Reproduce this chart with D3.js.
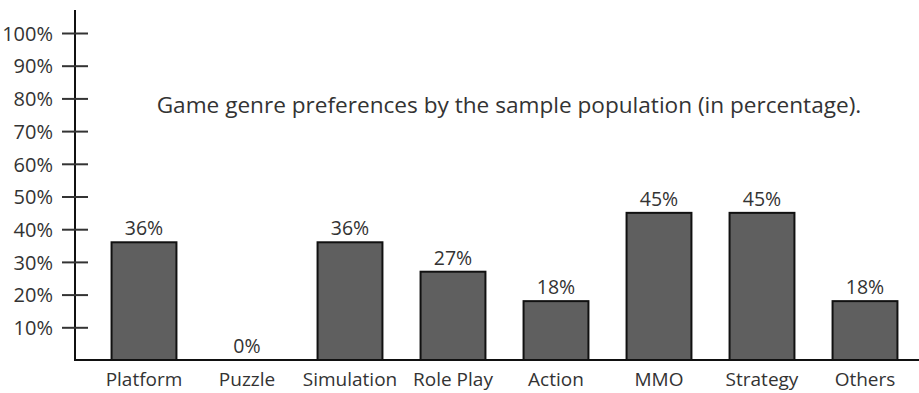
<!DOCTYPE html>
<html>
<head>
<meta charset="utf-8">
<script src="https://cdn.jsdelivr.net/npm/d3@7"></script>
<style>
  html, body { margin: 0; padding: 0; background: #fff; }
  svg { display: block; }
  text { font-family: "Open Sans", Lato, sans-serif; fill: #333; }
</style>
</head>
<body>
<svg id="chart" width="919" height="393"></svg>
<script>
// Survey results: share of respondents preferring each genre (percent)
const genres = ["Platform", "Puzzle", "Simulation", "Role Play", "Action", "MMO", "Strategy", "Others"];
const shares = [36, 0, 36, 27, 18, 45, 45, 18];
const tickValues = [10, 20, 30, 40, 50, 60, 70, 80, 90, 100];
const titleText = "Game genre preferences by the sample population (in percentage).";

const svg = d3.select("#chart");
const baseY = 360, topY = 33, axisX = 75;

const y = d3.scaleLinear().domain([0, 100]).range([baseY, topY]);
const x = d3.scaleBand()
  .domain(genres)
  .range([92.5, 916.5])
  .paddingInner(0.37)
  .paddingOuter(0.185);

// Vertical axis line
svg.append("line")
  .attr("x1", axisX).attr("x2", axisX)
  .attr("y1", 10).attr("y2", baseY)
  .attr("stroke", "#111").attr("stroke-width", 2);

// Horizontal baseline
svg.append("line")
  .attr("x1", axisX - 1).attr("x2", 919)
  .attr("y1", baseY).attr("y2", baseY)
  .attr("stroke", "#111").attr("stroke-width", 2);

// Tick marks crossing the axis, with labels
const yAxis = d3.axisLeft(y)
  .tickValues(tickValues)
  .tickSize(0)
  .tickFormat(d => d + "%");
const gy = svg.append("g").attr("transform", `translate(${axisX},0)`).call(yAxis);
gy.select(".domain").remove();
gy.selectAll(".tick").append("line")
  .attr("x1", -13).attr("x2", 13)
  .attr("stroke", "#333").attr("stroke-width", 2);
gy.selectAll(".tick text")
  .attr("x", -22)
  .attr("dy", "0.36em")
  .style("font-size", "20px")
  .style("font-family", "'Open Sans', Lato, sans-serif")
  .attr("fill", "#333");

// Bars
svg.selectAll("rect.bar")
  .data(genres)
  .join("rect")
  .attr("class", "bar")
  .attr("x", d => x(d))
  .attr("width", x.bandwidth())
  .attr("y", (d, i) => y(shares[i]))
  .attr("height", (d, i) => baseY - y(shares[i]))
  .attr("fill", "#5f5f5f")
  .attr("stroke", "#111")
  .attr("stroke-width", 2);

// Value labels above bars
svg.selectAll("text.val")
  .data(genres)
  .join("text")
  .attr("class", "val")
  .attr("x", d => x(d) + x.bandwidth() / 2)
  .attr("y", (d, i) => y(shares[i]) - 7)
  .attr("text-anchor", "middle")
  .style("font-size", "19.5px")
  .text((d, i) => shares[i] + "%");

// Category labels
svg.selectAll("text.cat")
  .data(genres)
  .join("text")
  .attr("class", "cat")
  .attr("x", d => x(d) + x.bandwidth() / 2)
  .attr("y", 386)
  .attr("text-anchor", "middle")
  .style("font-size", "19px")
  .text(d => d);

// Title
svg.append("text")
  .attr("x", 509)
  .attr("y", 113)
  .attr("text-anchor", "middle")
  .style("font-size", "22.6px")
  .text(titleText);
</script>
</body>
</html>
